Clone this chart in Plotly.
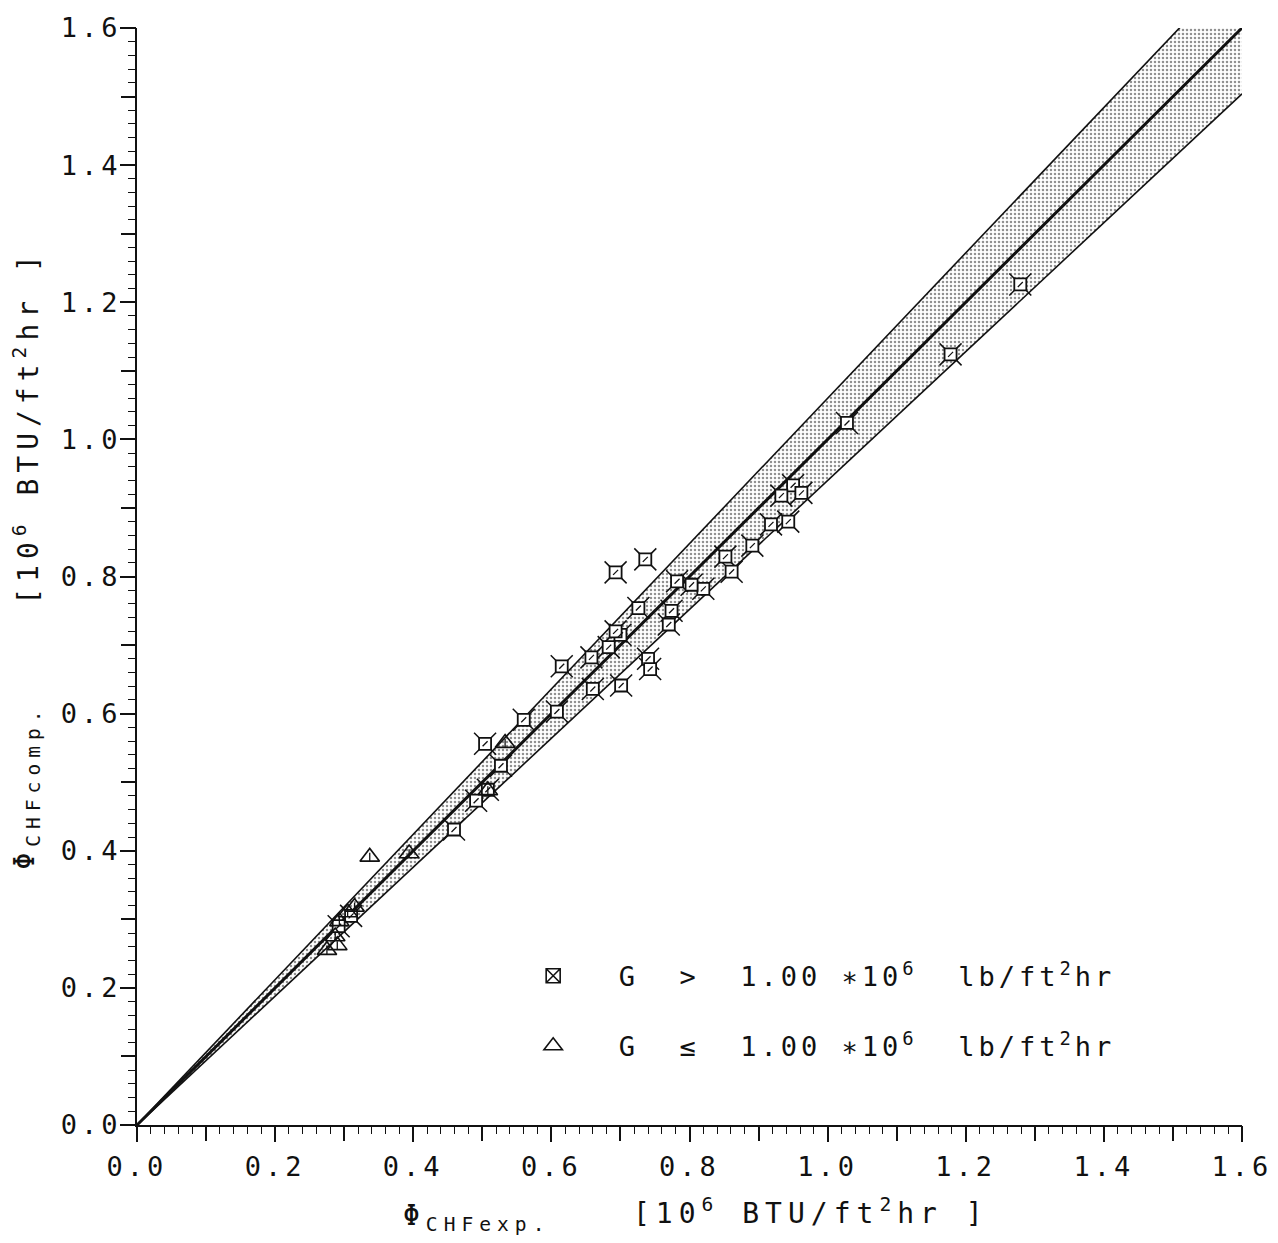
import plotly.graph_objects as go

# ---------------- data ----------------
sq_x = [1.279, 1.178, 1.028, 0.950, 0.962, 0.933, 0.918, 0.943, 0.891, 0.852,
        0.861, 0.820, 0.803, 0.782, 0.774, 0.770, 0.736, 0.693, 0.726, 0.700,
        0.693, 0.683, 0.740, 0.743, 0.701, 0.658, 0.660, 0.615, 0.608, 0.560,
        0.504, 0.527, 0.508, 0.491, 0.459, 0.310, 0.292]
sq_y = [1.226, 1.124, 1.024, 0.933, 0.922, 0.918, 0.876, 0.880, 0.845, 0.829,
        0.807, 0.782, 0.788, 0.793, 0.750, 0.730, 0.825, 0.806, 0.754, 0.715,
        0.720, 0.697, 0.680, 0.665, 0.641, 0.682, 0.636, 0.669, 0.603, 0.591,
        0.556, 0.524, 0.489, 0.473, 0.431, 0.305, 0.290]

tri_x = [0.337, 0.394, 0.533, 0.508, 0.315, 0.305, 0.293, 0.287, 0.290, 0.275]
tri_y = [0.391, 0.396, 0.557, 0.488, 0.318, 0.310, 0.297, 0.275, 0.262, 0.255]

line_x = [0.0, 1.6]
upper_ratio = 1.06
lower_ratio = 0.94

label_vals = [round(0.2 * i, 1) for i in range(9)]
label_text = [f"{v:.1f}" for v in label_vals]

FONT = "DejaVu Sans Mono"
INK = "#111111"
NB = "\u00a0"

center_y = [v for v in line_x]
upper_y = [v * upper_ratio for v in line_x]
lower_y = [v * lower_ratio for v in line_x]

fig = go.Figure()

# shaded band
fig.add_trace(go.Scatter(
    x=line_x + line_x[::-1], y=upper_y + lower_y[::-1],
    fill="toself", mode="none", showlegend=False, hoverinfo="skip",
    fillcolor="rgba(0,0,0,0)",
    fillpattern=dict(shape=".", fgcolor="#222222", bgcolor="white",
                     size=4, solidity=0.32),
))
for yy, w in [(upper_y, 1.6), (lower_y, 1.6), (center_y, 3.0)]:
    fig.add_trace(go.Scatter(x=line_x, y=yy, mode="lines",
                             line=dict(color=INK, width=w),
                             showlegend=False, hoverinfo="skip"))

label_g1 = (NB * 2 + "G" + NB * 2 + ">" + NB * 2 + "1.00" + NB + "\u221710"
            + "<sup>6</sup>" + NB * 2 + "lb/ft<sup>2</sup>hr")
label_g2 = (NB * 2 + "G" + NB * 2 + "\u2264" + NB * 2 + "1.00" + NB + "\u221710"
            + "<sup>6</sup>" + NB * 2 + "lb/ft<sup>2</sup>hr")

# G > 1 markers: extended X arms behind a white-filled square
fig.add_trace(go.Scatter(
    x=sq_x, y=sq_y, mode="markers", showlegend=False, hoverinfo="skip",
    marker=dict(symbol="x-thin-open", size=22, color=INK, line=dict(color=INK, width=1.5)),
))
fig.add_trace(go.Scatter(
    x=sq_x, y=sq_y, mode="markers", showlegend=False, hoverinfo="skip",
    marker=dict(symbol="square", size=12, color="white",
                line=dict(color=INK, width=1.8)),
))
fig.add_trace(go.Scatter(
    x=sq_x, y=sq_y, mode="markers", showlegend=False, hoverinfo="skip",
    marker=dict(symbol="line-ne-open", size=5, color=INK, line=dict(color=INK, width=1.3)),
))
# G <= 1 markers: triangle with a short inner stroke
fig.add_trace(go.Scatter(
    x=tri_x, y=tri_y, mode="markers", showlegend=False, hoverinfo="skip",
    marker=dict(symbol="triangle-up-open", size=17, color=INK,
                line=dict(color=INK, width=1.6)),
))
fig.add_trace(go.Scatter(
    x=tri_x, y=tri_y, mode="markers", showlegend=False, hoverinfo="skip",
    marker=dict(symbol="line-ns-open", size=6, color=INK, line=dict(color=INK, width=1.3)),
))
# legend entries (no points of their own)
fig.add_trace(go.Scatter(
    x=[None], y=[None], mode="markers", name=label_g1, legendgroup="a",
    marker=dict(symbol="square-x-open", size=14, color=INK, line=dict(color=INK, width=1.6)),
))
fig.add_trace(go.Scatter(
    x=[None], y=[None], mode="markers", name=label_g2, legendgroup="b",
    marker=dict(symbol="triangle-up-open", size=17, color=INK, line=dict(color=INK, width=1.6)),
))
# carrier for the overlay tick axes
fig.add_trace(go.Scatter(x=[None], y=[None], xaxis="x2", yaxis="y2", showlegend=False,
                         hoverinfo="skip"))

axis_common = dict(
    range=[0, 1.6], showline=True, linecolor=INK, linewidth=2,
    ticks="outside", ticklen=15, tickwidth=1.5, tickcolor=INK,
    tickvals=label_vals, ticktext=label_text,
    minor=dict(dtick=0.02, tick0=0, ticks="outside", ticklen=7, tickwidth=1.3,
               tickcolor=INK),
    showgrid=False, zeroline=False, fixedrange=True,
    tickfont=dict(family=FONT, size=27, color=INK),
)
over_common = dict(
    range=[0, 1.6], showline=False, ticks="outside", ticklen=15, tickwidth=1.5,
    tickcolor=INK, tick0=0, dtick=0.1, showticklabels=False, showgrid=False,
    zeroline=False, fixedrange=True,
)

fig.update_layout(
    width=1278, height=1243,
    margin=dict(l=137, r=33, t=20, b=118),
    paper_bgcolor="white", plot_bgcolor="white",
    xaxis=dict(**axis_common, ticklabelstandoff=2),
    yaxis=dict(**axis_common, ticklabelstandoff=-7),
    xaxis2=dict(**over_common, overlaying="x", anchor="y", side="bottom"),
    yaxis2=dict(**over_common, overlaying="y", anchor="x", side="left"),
    font=dict(family=FONT, color=INK),
    legend=dict(x=0.354, y=0.158, xanchor="left", yanchor="top",
                bgcolor="rgba(0,0,0,0)", font=dict(family=FONT, size=27, color=INK),
                tracegroupgap=32, itemwidth=40),
    annotations=[
        dict(text="\u03a6<sub>CHFcomp.</sub>", xref="paper", yref="paper",
             x=-0.100, y=0.308, xanchor="center", yanchor="middle", textangle=-90,
             showarrow=False, font=dict(family=FONT, size=28, color=INK)),
        dict(text="[10<sup>6</sup> BTU/ft<sup>2</sup>hr ]",
             xref="paper", yref="paper",
             x=-0.100, y=0.636, xanchor="center", yanchor="middle", textangle=-90,
             showarrow=False, font=dict(family=FONT, size=28, color=INK)),
        dict(text="\u03a6<sub>CHFexp.</sub>", xref="paper", yref="paper",
             x=0.307, y=-0.066, xanchor="center", yanchor="top",
             showarrow=False, font=dict(family=FONT, size=28, color=INK)),
        dict(text="[10<sup>6</sup> BTU/ft<sup>2</sup>hr ]",
             xref="paper", yref="paper",
             x=0.610, y=-0.0606, xanchor="center", yanchor="top",
             showarrow=False, font=dict(family=FONT, size=28, color=INK)),
    ],
)

spacing_css = ("var st=document.createElement('style');"
               "st.textContent='.xtick text,.ytick text{letter-spacing:4px;}"
               " .legendtext{letter-spacing:4px;}"
               " .annotation-text{letter-spacing:6px;}"
               " .legend .scrollbox{clip-path:none !important;}'"
               ";document.head.appendChild(st);")

fig.write_html("out.html", post_script=spacing_css)
